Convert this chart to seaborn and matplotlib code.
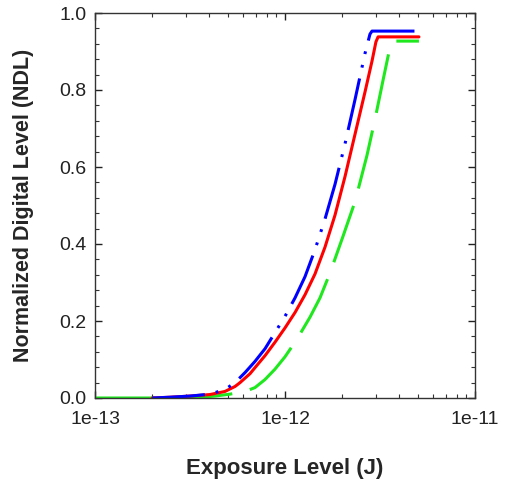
import matplotlib
matplotlib.use("Agg")
import matplotlib.pyplot as plt
from matplotlib.ticker import AutoMinorLocator, LogLocator, NullFormatter
import seaborn as sns

# valores
exp_rojo = [2.0e-13, 2.48e-13, 3.16e-13, 4.03e-13, 4.83e-13, 5.46e-13, 5.80e-13, 6.54e-13,
            7.12e-13, 7.85e-13, 8.86e-13, 1.0e-12, 1.129e-12, 1.274e-12, 1.438e-12,
            1.624e-12, 1.833e-12, 2.069e-12, 2.336e-12, 2.637e-12, 2.87e-12, 3.01e-12,
            3.09e-12, 5.07e-12]
ndl_rojo = [0.0, 0.002, 0.005, 0.009, 0.017, 0.03, 0.04, 0.063,
            0.085, 0.11, 0.145, 0.182, 0.222, 0.268, 0.322,
            0.392, 0.475, 0.575, 0.685, 0.795, 0.875, 0.925,
            0.938, 0.938]

exp_azul = [2.0e-13, 2.48e-13, 3.16e-13, 4.03e-13, 4.83e-13, 5.46e-13, 6.16e-13, 6.95e-13,
            7.85e-13, 8.86e-13, 1.0e-12, 1.129e-12, 1.274e-12, 1.438e-12, 1.624e-12,
            1.833e-12, 2.069e-12, 2.336e-12, 2.637e-12, 2.80e-12, 2.87e-12, 5.07e-12]
ndl_azul = [0.0, 0.002, 0.005, 0.01, 0.022, 0.04, 0.066, 0.095,
            0.128, 0.17, 0.212, 0.26, 0.315, 0.385, 0.465,
            0.555, 0.66, 0.775, 0.895, 0.945, 0.953, 0.953]

exp_verde = [1.0e-13, 2.80e-13, 3.57e-13, 4.28e-13, 5.13e-13, 6.16e-13, 6.95e-13, 7.85e-13,
             8.86e-13, 1.0e-12, 1.157e-12, 1.354e-12, 1.528e-12, 1.726e-12, 2.02e-12,
             2.336e-12, 2.70e-12, 2.98e-12, 3.28e-12, 3.53e-12, 3.66e-12, 5.07e-12]
ndl_verde = [0.0, 0.0, 0.002, 0.005, 0.01, 0.017, 0.027, 0.048,
             0.075, 0.107, 0.153, 0.21, 0.26, 0.325, 0.42,
             0.51, 0.63, 0.725, 0.825, 0.90, 0.927, 0.927]

sns.set_theme(style="ticks")
plt.rcParams['font.family'] = ['Liberation Sans', 'DejaVu Sans']
plt.rcParams['lines.scale_dashes'] = False

fig = plt.figure(figsize=(5.08, 4.82), dpi=100)
ax = fig.add_axes([95 / 508, 1 - 398 / 482, 380 / 508, 385 / 482])

lw = 2.2
sns.lineplot(x=exp_verde, y=ndl_verde, ax=ax, color="#1fe81f", linewidth=lw,
             linestyle=(0, (43, 13)), estimator=None, sort=False)
sns.lineplot(x=exp_rojo, y=ndl_rojo, ax=ax, color="#ff0000", linewidth=lw,
             estimator=None, sort=False)
sns.lineplot(x=exp_azul, y=ndl_azul, ax=ax, color="#0000ff", linewidth=lw,
             linestyle=(0, (38, 8, 2, 8, 2, 8)), estimator=None, sort=False)

ax.set_xscale("log")
ax.set_xlim(1e-13, 1e-11)
ax.set_ylim(0, 1.0)
ax.set_xticks([1e-13, 1e-12, 1e-11])
ax.set_xticklabels(["1e-13", "1e-12", "1e-11"])
ax.xaxis.set_minor_locator(LogLocator(base=10, subs=range(2, 10)))
ax.xaxis.set_minor_formatter(NullFormatter())
ax.set_yticks([0, 0.2, 0.4, 0.6, 0.8, 1.0])
ax.set_yticklabels(["0.0", "0.2", "0.4", "0.6", "0.8", "1.0"])
ax.yaxis.set_minor_locator(AutoMinorLocator(5))

ax.tick_params(which="both", direction="in", top=True, right=True, color="#333333")
ax.tick_params(which="major", length=5, width=1, labelsize=14, colors="#222222")
ax.tick_params(which="minor", length=3, width=0.8)
ax.tick_params(axis="x", which="major", pad=9)
ax.tick_params(axis="y", which="major", pad=6)
for s in ax.spines.values():
    s.set_linewidth(1)
    s.set_color("#333333")

ax.set_xlabel("Exposure Level (J)", fontsize=16, fontweight="bold", labelpad=22)
ax.set_ylabel("Normalized Digital Level (NDL)", fontsize=15.5, fontweight="bold", labelpad=18)

plt.savefig("out.png", dpi=100)
plt.close()
